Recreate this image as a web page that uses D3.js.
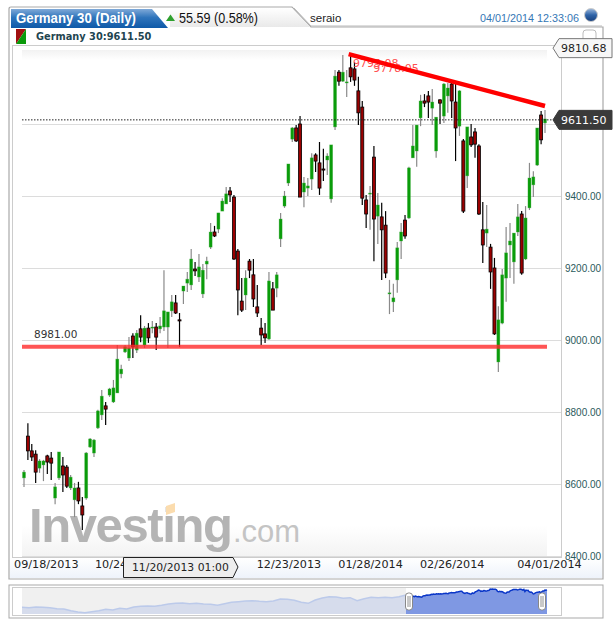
<!DOCTYPE html>
<html><head><meta charset="utf-8">
<script src="https://cdnjs.cloudflare.com/ajax/libs/d3/7.8.5/d3.min.js"></script>
<style>html,body{margin:0;padding:0;background:#fff;overflow:hidden}svg{display:block}</style>
</head><body><div id="c"></div>
<script>
const opens=[8617,8733,8692,8683,8644,8653,8678,8672,8561,8617,8650,8647,8589,8556,8589,8539,8561,8703,8686,8756,8792,8817,8847,8828,8853,8906,8967,8950,9011,8972,9031,8986,9033,9033,9036,9031,9036,9036,9081,9103,9056,9136,9158,9153,9197,9175,9128,9211,9258,9300,9308,9358,9378,9414,9397,9247,9108,9125,9219,9181,9092,9033,9017,9003,9142,9144,9281,9372,9436,9558,9589,9600,9411,9422,9447,9514,9492,9475,9500,9392,9592,9744,9719,9714,9756,9753,9692,9647,9389,9406,9508,9344,9342,9319,9128,9106,9167,9275,9333,9339,9506,9525,9617,9664,9678,9644,9525,9667,9622,9678,9711,9661,9594,9553,9456,9564,9578,9539,9306,9297,9258,9200,8939,9047,9172,9264,9217,9300,9350,9225,9367,9431,9486,9625,9603];
const highs=[8639,8769,8711,8694,8669,8667,8681,8689,8603,8689,8675,8653,8625,8603,8606,8564,8689,8728,8725,8806,8861,8828,8867,8889,8986,8931,8986,9008,9019,9028,9069,9039,9047,9053,9047,9064,9194,9078,9125,9125,9075,9150,9189,9253,9217,9239,9211,9231,9325,9317,9353,9394,9425,9425,9403,9253,9172,9194,9225,9225,9153,9061,9047,9189,9161,9189,9353,9414,9489,9592,9597,9622,9453,9450,9519,9519,9550,9531,9519,9542,9750,9750,9792,9750,9794,9772,9731,9664,9403,9428,9539,9408,9381,9358,9167,9156,9272,9325,9347,9481,9597,9597,9681,9683,9692,9697,9619,9669,9714,9714,9722,9714,9694,9558,9592,9600,9589,9544,9383,9375,9267,9228,9094,9197,9314,9325,9297,9378,9358,9372,9492,9469,9589,9636,9639];
const lows=[8592,8667,8664,8603,8631,8608,8628,8611,8544,8611,8578,8589,8583,8508,8544,8472,8556,8700,8675,8753,8778,8764,8842,8825,8853,8894,8964,8942,8950,8964,8994,8978,8992,9019,8972,9019,9025,8978,9064,9072,8981,9100,9133,9139,9178,9161,9117,9169,9253,9286,9297,9358,9378,9383,9222,9069,9078,9083,9172,9092,9064,8986,8992,9000,9083,9119,9258,9367,9428,9550,9550,9397,9369,9400,9417,9467,9403,9442,9458,9381,9583,9706,9717,9675,9717,9706,9597,9375,9311,9306,9219,9267,9167,9172,9072,9078,9131,9225,9281,9336,9506,9481,9594,9647,9617,9597,9506,9600,9603,9631,9617,9497,9567,9353,9422,9536,9506,9347,9214,9258,9142,9014,8911,9044,9106,9172,9156,9289,9181,9222,9361,9397,9483,9544,9575];
const closes=[8633,8692,8675,8633,8664,8664,8661,8658,8592,8689,8625,8594,8619,8589,8553,8514,8686,8725,8722,8803,8844,8808,8864,8867,8947,8919,8981,8978,8981,9019,9008,9033,9006,9036,9008,9039,9081,9078,9106,9075,9053,9150,9169,9225,9192,9203,9194,9219,9300,9289,9353,9386,9406,9403,9225,9139,9083,9172,9194,9114,9075,9014,9006,9164,9083,9181,9336,9400,9489,9589,9553,9397,9436,9428,9506,9497,9422,9472,9511,9542,9733,9719,9744,9717,9731,9722,9631,9394,9350,9408,9336,9375,9306,9186,9131,9117,9256,9300,9289,9478,9539,9597,9664,9658,9661,9661,9619,9658,9711,9700,9664,9589,9692,9358,9592,9542,9544,9350,9264,9308,9189,9017,9056,9181,9242,9275,9297,9342,9186,9339,9450,9453,9589,9556,9614];
const navHistory=[7000,6950,7050,7000,6950,6800,6750,6500,6300,6200,6350,6500,6700,6600,6850,6750,7050,7150,7200,7150,7300,7500,7600,7650,7550,7600,7500,7450,7300,7550,7750,7850,7950,8000,7900,7850,7950,8250,8200,8050,7750,7600,8100,8400,8600,8550,8350,8450,8000,8300,8500,8450,8500,8450,8600,8850];
const yTicks=[8400,8600,8800,9000,9200,9400,9600];
const xTickAt=[5.6,26.4,68,89,110,135];
const xTickLabels=["09/18/2013","10/24/2013","12/23/2013","01/28/2014","02/26/2014","04/01/2014"];
const lastValue=9611.50, topValue=9810.68, supportValue=8981.00;
const trendValues=[9794,9650], trendAt=[83.5,134];
const noteTexts=["9795.08","9778.05"], noteValues=[9758,9744], noteAt=[84.6,89.8];
const title="Germany 30 (Daily)", change="55.59 (0.58%)", user="seraio", stamp="04/01/2014 12:33:06";
const crossLabel="11/20/2013 01:00";

const W=613,H=627,svg=d3.select("#c").append("svg").attr("width",W).attr("height",H);
const defs=svg.append("defs");
const grad=(id,stops,x2=0,y2=1)=>{const g=defs.append("linearGradient").attr("id",id).attr("x1",0).attr("y1",0).attr("x2",x2).attr("y2",y2);stops.forEach(s=>g.append("stop").attr("offset",s[0]).attr("stop-color",s[1]));};
grad("tab",[[0,"#7fa9d8"],[.45,"#2f74bb"],[1,"#0f5aa8"]]);
grad("top",[[0,"#ffffff"],[1,"#e9e9e9"]]);
grad("plot",[[0,"#f2f2f2"],[.02,"#ffffff"],[.94,"#ffffff"],[1,"#f3f3f3"]]);
grad("btn",[[0,"#9cb8dc"],[.5,"#2f64a8"],[1,"#173f7c"]]);
grad("xband",[[0,"#ffffff"],[1,"#eef3fb"]]);

// frame
svg.append("path").attr("d","M9,579V9Q9,7 11,7H292L311,27H603V579Z").attr("fill","#fff").attr("stroke","#a9a9a9").attr("stroke-width",1.2);
svg.append("path").attr("d","M294,8L311,26H602").attr("fill","none").attr("stroke","#bbb");
svg.append("path").attr("d","M170,8H292L310,27H170Z").attr("fill","url(#top)");
svg.append("path").attr("d","M11,28V9H152L168,28Z").attr("fill","url(#tab)");
svg.append("text").attr("x",16).attr("y",23).attr("font-family","Liberation Sans").attr("font-weight","bold").attr("font-size",14).attr("textLength",120).attr("lengthAdjust","spacingAndGlyphs").attr("fill","#fff").text(title);
svg.append("path").attr("d","M166,21L170.5,14.5L175,21Z").attr("fill","#2ea02e");
svg.append("text").attr("x",179).attr("y",23).attr("font-family","Liberation Sans").attr("font-size",14).attr("textLength",79).attr("lengthAdjust","spacingAndGlyphs").attr("fill","#111").text(change);
svg.append("text").attr("x",310).attr("y",22).attr("font-family","Liberation Sans").attr("font-size",11.5).attr("fill","#222").text(user);
svg.append("text").attr("x",480).attr("y",22).attr("font-family","Liberation Sans").attr("font-size",11).attr("textLength",99).attr("lengthAdjust","spacingAndGlyphs").attr("fill","#3577b5").text(stamp);
svg.append("circle").attr("cx",591).attr("cy",15).attr("r",6.5).attr("fill","url(#btn)").attr("stroke","#ccc");
svg.append("rect").attr("x",583).attr("y",30).attr("width",13).attr("height",16).attr("rx",3).attr("fill","#fff").attr("stroke","#bbb");

// legend
svg.append("path").attr("d","M16,29H26L16,44Z").attr("fill","#a01010");
svg.append("path").attr("d","M26,29V44H16Z").attr("fill","#0a9a0a");
svg.append("text").attr("x",36).attr("y",40).attr("font-family","DejaVu Sans").attr("font-weight","bold").attr("font-size",9.8).attr("fill","#1f4550").text("Germany 30:9611.50");

// plot area
const px0=22,px1=547,py0=50,py1=556;
svg.append("rect").attr("x",12.5).attr("y",45.5).attr("width",549).attr("height",512).attr("fill","#fff").attr("stroke","#ccc");
svg.append("rect").attr("x",px0).attr("y",py0).attr("width",px1-px0).attr("height",py1-py0).attr("fill","url(#plot)");

const y=d3.scaleLinear().domain([8400,9800]).range([556,52]);
const n=closes.length;
const x=d3.scaleLinear().domain([0,n-1]).range([24,545]);

// grid
svg.append("g").selectAll("line").data(yTicks).join("line").attr("x1",px0).attr("x2",561).attr("y1",d=>y(d)+.5).attr("y2",d=>y(d)+.5).attr("stroke","#dcdcdc");

// logo
const logo=svg.append("g");
logo.append("text").attr("x",29).attr("y",542).attr("font-family","Liberation Sans").attr("font-weight","bold").attr("font-size",49).attr("letter-spacing",-1.4).attr("fill","#b4b4b4").text("Investing");
logo.append("path").attr("d","M166,506L175,503L175,512L166,515Z").attr("fill","#fbdcae");
logo.append("text").attr("x",233).attr("y",542).attr("font-family","Liberation Sans").attr("font-size",31).attr("fill","#c4c4c4").text(".com");

// candles
const idx=d3.range(n);
const up=i=>closes[i]>=opens[i];
svg.append("g").selectAll("line").data(idx).join("line")
 .attr("x1",x).attr("x2",x).attr("y1",i=>y(highs[i])).attr("y2",i=>y(lows[i]))
 .attr("stroke",i=>up(i)?"#8a8a8a":"#000").attr("stroke-width",1.2);
svg.append("g").selectAll("rect").data(idx).join("rect")
 .attr("x",i=>x(i)-1.5).attr("width",3)
 .attr("y",i=>y(Math.max(opens[i],closes[i])))
 .attr("height",i=>Math.max(1,Math.abs(y(opens[i])-y(closes[i]))))
 .attr("fill",i=>up(i)?"#0a9c0a":"#9a0000")
 .attr("stroke",i=>up(i)?"rgba(60,170,60,.45)":"#000").attr("stroke-width",i=>up(i)?.7:.8);

// last price dotted
svg.append("line").attr("x1",px0).attr("x2",553).attr("y1",y(lastValue)).attr("y2",y(lastValue)).attr("stroke","#222").attr("stroke-dasharray","1.5,1.5");

// support
svg.append("line").attr("x1",px0).attr("x2",px1).attr("y1",y(supportValue)).attr("y2",y(supportValue)).attr("stroke","#ff2a2a").attr("stroke-opacity",.8).attr("stroke-width",4);
svg.append("text").attr("x",34).attr("y",y(supportValue)-9).attr("font-family","DejaVu Sans").attr("font-size",10.5).attr("fill","#333").text(d3.format(".2f")(supportValue));

// trend + notes
svg.append("g").selectAll("text").data(noteTexts).join("text").attr("x",(d,i)=>x(noteAt[i])).attr("y",(d,i)=>y(noteValues[i])).attr("font-family","DejaVu Sans").attr("font-size",11).attr("fill","#ff5050").text(d=>d);
svg.append("line").attr("x1",x(trendAt[0])).attr("x2",x(trendAt[1])).attr("y1",y(trendValues[0])).attr("y2",y(trendValues[1])).attr("stroke","#ff0000").attr("stroke-width",4.5);

// x axis band
svg.append("rect").attr("x",10).attr("y",558).attr("width",592).attr("height",20).attr("fill","url(#xband)");

// y axis
const ya=svg.append("g").attr("transform","translate(563,0)").call(d3.axisRight(y).tickValues(yTicks).tickSize(0).tickPadding(2).tickFormat(d3.format(".2f")));
ya.select(".domain").remove();
ya.selectAll("text").attr("font-family","Liberation Sans").attr("font-size",10).attr("fill","#2b5a5c");

// callouts
function callout(v,fill,stroke,col,weight){
 const c=y(v),g=svg.append("g");
 g.append("path").attr("d",`M553,${c}L559,${c-9.5}H612V${c+9.5}H559Z`).attr("fill",fill).attr("stroke",stroke);
 g.append("text").attr("x",561).attr("y",c+4).attr("font-family","DejaVu Sans").attr("font-size",11).attr("font-weight",weight).attr("fill",col).text(d3.format(".2f")(v));
}
callout(topValue,"#f7f7f7","#777","#222","normal");
callout(lastValue,"#3a3a3a","#3a3a3a","#fff","normal");

const xa=svg.append("g").attr("transform","translate(0,558)").call(d3.axisBottom(x).tickValues(xTickAt).tickSize(0).tickPadding(2).tickFormat((d,i)=>xTickLabels[i]));
xa.select(".domain").remove();
xa.selectAll("text").attr("font-family","DejaVu Sans").attr("font-size",11.2).attr("fill","#222");
// crosshair label
svg.append("path").attr("d","M123.5,557.5H233L238,567L233,577.5H123.5Z").attr("fill","#eeeeee").attr("stroke","#222");
svg.append("text").attr("x",132).attr("y",571).attr("font-family","DejaVu Sans").attr("font-size",10.8).attr("fill","#222").text(crossLabel);

// navigator
svg.append("rect").attr("x",9).attr("y",585).attr("width",594).attr("height",33).attr("fill","#fff").attr("stroke","#a9a9a9");
svg.append("rect").attr("x",12.5).attr("y",587.5).attr("width",549).attr("height",28).attr("fill","#fff").attr("stroke","#ccc");
const navY=d3.scaleLinear().domain([6000,9900]).range([614,588]);
const splitX=406;
const hx=d3.scaleLinear().domain([0,navHistory.length-1]).range([22,splitX]);
const sx=d3.scaleLinear().domain([0,n-1]).range([splitX,px1]);
svg.append("rect").attr("x",22).attr("y",588).attr("width",splitX-22).attr("height",26).attr("fill","#f0f0f0");
const a1=d3.area().x((d,i)=>hx(i)).y0(614).y1(d=>navY(d));
const l1=d3.line().x((d,i)=>hx(i)).y(d=>navY(d));
svg.append("path").attr("d",a1(navHistory)).attr("fill","#d6dcec");
svg.append("path").attr("d",l1(navHistory)).attr("fill","none").attr("stroke","#bccaea").attr("stroke-width",1.5);
const a2=d3.area().x((d,i)=>sx(i)).y0(614).y1(d=>navY(d));
const l2=d3.line().x((d,i)=>sx(i)).y(d=>navY(d));
svg.append("path").attr("d",a2(closes)).attr("fill","#7f98e3");
svg.append("path").attr("d",l2(closes)).attr("fill","none").attr("stroke","#0a36c8").attr("stroke-width",1.5);
svg.append("g").selectAll("g").data([409,542]).join("g").each(function(c){
 const g=d3.select(this);
 g.append("rect").attr("x",c-3.5).attr("y",593).attr("width",7).attr("height",17).attr("rx",3).attr("fill","#fff").attr("stroke","#888");
 g.append("path").attr("d",`M${c-1},596V607M${c+1},596V607`).attr("stroke","#777").attr("stroke-width",.8);
});
</script></body></html>
